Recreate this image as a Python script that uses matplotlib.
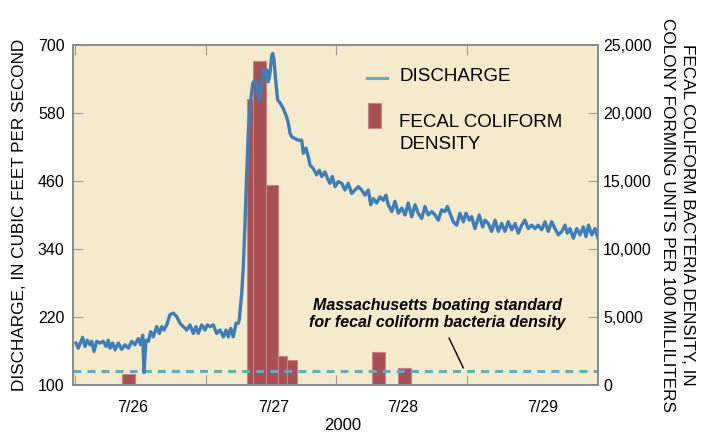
import numpy as np
import matplotlib
matplotlib.use('Agg')
import matplotlib.pyplot as plt
from matplotlib.patches import Rectangle
from matplotlib.lines import Line2D

plt.rcParams['font.family'] = ['Liberation Sans', 'DejaVu Sans']

# discharge record, time in days after 7/26 00:00, cubic feet per second
q_time = [0.004, 0.021, 0.055, 0.073, 0.090, 0.111, 0.124, 0.142, 0.162, 0.188,
          0.213, 0.234, 0.251, 0.264, 0.285, 0.303, 0.328, 0.354, 0.379, 0.405,
          0.431, 0.456, 0.481, 0.500, 0.515, 0.525, 0.540, 0.558, 0.576, 0.596,
          0.622, 0.642, 0.661, 0.678, 0.699, 0.724, 0.749, 0.775, 0.801, 0.826,
          0.852, 0.877, 0.903, 0.923, 0.941, 0.967, 0.992, 1.010, 1.031, 1.056,
          1.082, 1.107, 1.133, 1.153, 1.171, 1.189, 1.209, 1.230, 1.248,
          1.255, 1.274, 1.286, 1.299, 1.312, 1.324, 1.343, 1.358, 1.375, 1.389,
          1.408, 1.427, 1.439, 1.452, 1.465, 1.477, 1.490, 1.503, 1.511, 1.521,
          1.534, 1.549, 1.567, 1.592, 1.618, 1.631, 1.644, 1.657, 1.682, 1.707,
          1.733, 1.746, 1.766, 1.784, 1.797, 1.822, 1.848, 1.868, 1.887, 1.912,
          1.930, 1.950, 1.968, 1.989, 2.014, 2.040, 2.065, 2.090, 2.116, 2.142,
          2.167, 2.193, 2.218, 2.244, 2.262, 2.282, 2.308, 2.333, 2.359, 2.379,
          2.397, 2.423, 2.448, 2.474, 2.500, 2.525, 2.550, 2.576, 2.602, 2.627,
          2.653, 2.678, 2.703, 2.730, 2.755, 2.780, 2.806, 2.831, 2.849, 2.870,
          2.895, 2.921, 2.946, 2.972, 2.992, 3.018, 3.036, 3.061, 3.094, 3.120,
          3.138, 3.163, 3.189, 3.215, 3.240, 3.266, 3.291, 3.316, 3.343, 3.368,
          3.393, 3.419, 3.444, 3.470, 3.496, 3.521, 3.546, 3.572, 3.598, 3.623,
          3.649, 3.674, 3.700, 3.726, 3.751, 3.769, 3.789, 3.815, 3.841, 3.866,
          3.891, 3.912, 3.931, 3.956, 3.981, 4.004]
q_cfs = [174, 165, 184, 168, 179, 171, 177, 159, 177, 174,
         177, 168, 179, 165, 174, 162, 174, 163, 171, 165,
         177, 171, 182, 171, 188, 122, 179, 177, 194, 185,
         203, 191, 203, 197, 206, 224, 227, 221, 209, 203,
         197, 206, 191, 203, 191, 206, 197, 206, 203, 206,
         191, 197, 185, 197, 185, 200, 185, 209, 209,
         215, 262, 309, 385, 474, 544, 603, 632, 638, 629,
         600, 632, 656, 644, 656, 635, 650, 679, 685, 674,
         638, 603, 598, 588, 573, 562, 544, 538, 535, 532,
         532, 509, 518, 503, 488, 482, 471, 479, 468, 476,
         465, 456, 468, 450, 459, 456, 444, 456, 438, 444,
         450, 444, 435, 444, 418, 429, 421, 432, 426, 435,
         418, 406, 424, 403, 412, 400, 421, 397, 418, 403,
         394, 415, 400, 406, 400, 391, 409, 406, 415, 403,
         388, 382, 403, 388, 403, 391, 397, 376, 400, 379,
         391, 385, 371, 391, 371, 385, 371, 388, 374, 385,
         368, 382, 391, 376, 382, 376, 382, 374, 388, 371,
         388, 376, 365, 371, 382, 368, 376, 359, 376, 365,
         379, 362, 382, 365, 376, 359]

# fecal coliform samples (colonies per 100 mL), sample start and duration in days
fc_start = [0.354, 1.317, 1.363, 1.460, 1.549, 1.623, 2.274, 2.469]
fc_width = [0.102, 0.046, 0.097, 0.089, 0.074, 0.072, 0.098, 0.102]
fc_density = [800, 21000, 23800, 14700, 2100, 1850, 2400, 1250]

boating_std = 1000

day_ticks = [0, 1, 2, 3, 4]
day_labels = ['7/26', '7/27', '7/28', '7/29']
label_pos = [0.44, 1.52, 2.51, 3.58]

bg = '#f5eacc'
bar_col = '#a85052'
line_col = '#3d7db8'
std_col = '#5eadc0'
grey = '#8c8c8c'

fig = plt.figure(figsize=(7.01, 4.42), dpi=100)
ax = fig.add_axes([73 / 701, 57 / 442, 524.5 / 701, 340 / 442])
ax2 = ax.twinx()
ax.set_zorder(ax2.get_zorder() + 1)
ax.patch.set_visible(False)
ax2.patch.set_visible(True)
ax2.patch.set_facecolor(bg)

ax2.bar(fc_start, fc_density, width=fc_width, align='edge',
        color=bar_col, edgecolor='#c98585', linewidth=0.8)
ax2.axhline(boating_std, color=std_col, lw=2.2, dashes=(2.6, 2.0))
ax2.set_ylim(0, 25000)
ax2.set_yticks([0, 5000, 10000, 15000, 20000, 25000])
ax2.set_yticklabels(['0', '5,000', '10,000', '15,000', '20,000', '25,000'])
ax2.tick_params(axis='y', direction='in', length=7, color='#9a9a9a',
                pad=4, labelsize=11.5)

ax.plot(q_time, q_cfs, color=line_col, lw=2.4, solid_joinstyle='round')
ax.set_xlim(-0.019, 4.0)
ax.set_ylim(100, 700)
ax.set_yticks([100, 220, 340, 460, 580, 700])
ax.tick_params(axis='y', direction='in', length=7, color='#9a9a9a',
               pad=6, labelsize=11.5)
ax.set_xticks(day_ticks)
ax.set_xticklabels([])
ax.tick_params(axis='x', which='major', direction='in', length=7,
               color='#9a9a9a', top=True)
ax.set_xticks(label_pos, minor=True)
ax.set_xticklabels(day_labels, minor=True)
ax.tick_params(axis='x', which='minor', length=0, pad=11, labelsize=11.5)

for a in (ax, ax2):
    for s in a.spines.values():
        s.set_color(grey)
        s.set_linewidth(1.3)

# standard note
ax.text(2.77, 225, 'Massachusetts boating standard\nfor fecal coliform bacteria density',
        ha='center', va='center', fontsize=11.5, fontweight='bold',
        fontstyle='italic', linespacing=1.2)
ax.annotate('', xy=(2.972, 130), xytext=(2.862, 183),
            arrowprops=dict(arrowstyle='-', lw=1, color='k',
                            shrinkA=0, shrinkB=0))

# legend
ax.add_line(Line2D([0.561, 0.599], [0.903, 0.903], transform=ax.transAxes,
                   color=std_col, lw=2.2))
ax.text(0.622, 0.907, 'DISCHARGE', transform=ax.transAxes,
        ha='left', va='center', fontsize=13.5)
ax.add_patch(Rectangle((0.563, 0.757), 0.024, 0.073, transform=ax.transAxes,
                       facecolor=bar_col, edgecolor='#c98585', lw=0.8))
ax.text(0.622, 0.771, 'FECAL COLIFORM', transform=ax.transAxes,
        ha='left', va='center', fontsize=13.5)
ax.text(0.622, 0.706, 'DENSITY', transform=ax.transAxes,
        ha='left', va='center', fontsize=13.5)

fig.text(20 / 701, 1 - 215 / 442, 'DISCHARGE, IN CUBIC FEET PER SECOND',
         rotation=90, ha='center', va='center', fontsize=12.3)
fig.text(677.5 / 701, 1 - 215 / 442,
         'FECAL COLIFORM BACTERIA DENSITY, IN\nCOLONY FORMING UNITS PER 100 MILLILITERS',
         rotation=-90, ha='center', va='center', fontsize=12.3, linespacing=1.4)
fig.text(343 / 701, 1 - 425 / 442, '2000', ha='center', va='center',
         fontsize=12)

fig.savefig('out.png', dpi=100, facecolor='white')
